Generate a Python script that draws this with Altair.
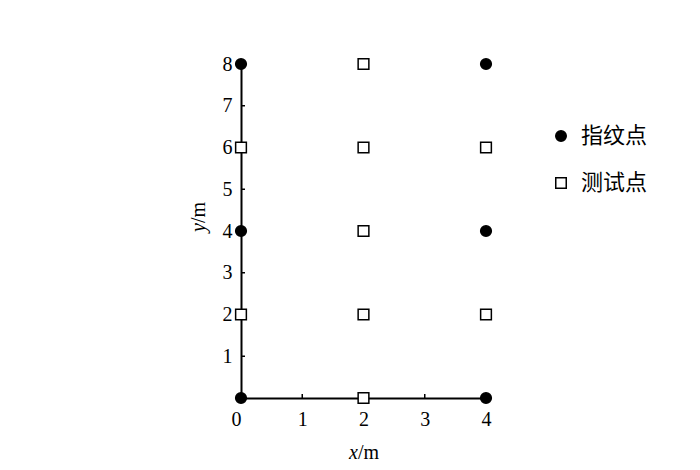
import altair as alt
import pandas as pd

# fingerprint points (filled circles)
fp_x = [0, 4, 0, 4, 0, 4]
fp_y = [0, 0, 4, 4, 8, 8]
# test points (open squares)
test_x = [2, 0, 2, 4, 2, 0, 2, 4, 2]
test_y = [0, 2, 2, 2, 4, 6, 6, 6, 8]

categories = ["指纹点", "测试点"]
x_ticks = [0, 1, 2, 3, 4]
y_ticks = [0, 1, 2, 3, 4, 5, 6, 7, 8]

W, H = 245, 334
SERIF = "Liberation Serif"

pts = pd.DataFrame({
    "x": fp_x + test_x,
    "y": fp_y + test_y,
    "type": [categories[0]] * len(fp_x) + [categories[1]] * len(test_x),
})

xs = alt.Scale(domain=[0, 4], nice=False, zero=False)
ys = alt.Scale(domain=[0, 8], nice=False, zero=False)

xaxis = alt.Axis(values=x_ticks, ticks=False, grid=False, title=None, format="d",
                 domainColor="black", domainWidth=2, labelFont=SERIF,
                 labelFontSize=20, labelColor="black", labelPadding=11,
                 labelAlign={"condition": {"test": "datum.value == 0", "value": "right"}, "value": "center"},
                 zindex=0)
yaxis = alt.Axis(values=y_ticks, ticks=False, grid=False, title=None, format="d",
                 domainColor="black", domainWidth=2, labelFont=SERIF,
                 labelFontSize=20, labelColor="black", labelPadding=9,
                 labelExpr="datum.value == 0 ? '' : datum.label",
                 zindex=0)

leg = alt.Legend(title=None, orient="none", legendX=309, legendY=61,
                 labelFont="Noto Sans CJK SC", labelFontSize=22,
                 labelColor="black", symbolSize=110,
                 symbolStrokeWidth=1.5, rowPadding=25, labelOffset=9)

base_pts = alt.Chart(pts).mark_point(filled=True, strokeWidth=1.5,
                                     opacity=1, fillOpacity=1).encode(
    x=alt.X("x:Q", scale=xs, axis=xaxis),
    y=alt.Y("y:Q", scale=ys, axis=yaxis),
    shape=alt.Shape("type:N", scale=alt.Scale(domain=categories, range=["circle", "square"]), legend=leg),
    fill=alt.Fill("type:N", scale=alt.Scale(domain=categories, range=["black", "white"]), legend=leg),
    stroke=alt.Stroke("type:N", scale=alt.Scale(domain=categories, range=["black", "black"]), legend=leg),
    size=alt.value(115),
)

xt = pd.DataFrame({"x": x_ticks})
yt = pd.DataFrame({"y": y_ticks})
xtick = alt.Chart(xt).mark_rule(color="black", strokeWidth=1.5).encode(
    x=alt.X("x:Q", scale=xs), y=alt.value(H), y2=alt.value(H - 4))
ytick = alt.Chart(yt).mark_rule(color="black", strokeWidth=1.5).encode(
    y=alt.Y("y:Q", scale=ys), x=alt.value(0), x2=alt.value(4))

titles_df = pd.DataFrame({"t": ["x"]})
xt1 = alt.Chart(titles_df).mark_text(text="x", font=SERIF, fontSize=20, fontStyle="italic",
                                     align="right", baseline="alphabetic", color="black").encode(
    x=alt.value(117), y=alt.value(395))
xt2 = alt.Chart(titles_df).mark_text(text="/m", font=SERIF, fontSize=20,
                                     align="left", baseline="alphabetic", color="black").encode(
    x=alt.value(117), y=alt.value(395))
yt1 = alt.Chart(titles_df).mark_text(text="y", font=SERIF, fontSize=20, fontStyle="italic", angle=270,
                                     align="right", baseline="alphabetic", color="black").encode(
    x=alt.value(-36), y=alt.value(159))
yt2 = alt.Chart(titles_df).mark_text(text="/m", font=SERIF, fontSize=20, angle=270,
                                     align="left", baseline="alphabetic", color="black").encode(
    x=alt.value(-36), y=alt.value(159))

chart = alt.layer(xtick, ytick, base_pts, xt1, xt2, yt1, yt2).properties(
    width=W, height=H,
    background="white",
    autosize=alt.AutoSizeParams(type="none"),
    padding={"left": 233, "top": 56, "right": 200, "bottom": 64},
).configure_view(strokeWidth=0, stroke=None)

chart.save("out.html", embed_options={"renderer": "svg", "actions": False})
